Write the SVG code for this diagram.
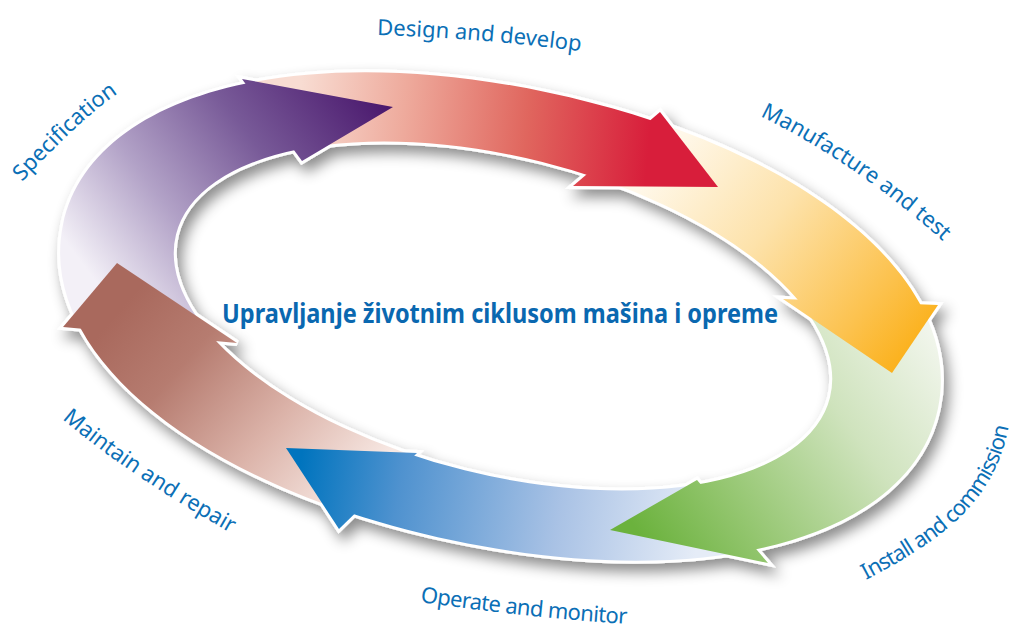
<svg xmlns="http://www.w3.org/2000/svg" xmlns:xlink="http://www.w3.org/1999/xlink" width="1016" height="629" viewBox="0 0 1016 629">
<style>
.lbl{font-family:"Noto Sans","Open Sans","DejaVu Sans",sans-serif;font-size:22px;fill:#0b6fb6}
.title{font-family:"Noto Sans","Open Sans","DejaVu Sans",sans-serif;font-size:26px;font-weight:700;fill:#0a68b0}
.sil{fill:#fff;stroke:#fff;stroke-width:6;stroke-linejoin:miter}
</style>
<defs>
<path id="ring" fill-rule="evenodd" d="M937.9,408.7 C910.5,538.6 707,594 453.3,540.6 C199.6,487.1 35.7,354.3 63.1,224.3 C90.5,94.4 294,39 547.7,92.4 C801.4,145.9 965.3,278.7 937.9,408.7 Z M830,397.5 A337 159 14 0 0 176,234.5 A337 159 14 0 0 830,397.5 Z"/>
<filter id="shadow" x="-10%" y="-10%" width="125%" height="135%">
<feDropShadow dx="5" dy="8" stdDeviation="7" flood-color="#000" flood-opacity="0.45"/>
</filter>
<linearGradient id="gSpec" gradientUnits="userSpaceOnUse" x1="110" y1="300" x2="380" y2="95">
<stop offset="0" stop-color="#f3f0f7"/><stop offset="0.3" stop-color="#b2a2c7"/><stop offset="0.62" stop-color="#785a98"/><stop offset="1" stop-color="#4a186d"/>
</linearGradient>
<linearGradient id="gDes" gradientUnits="userSpaceOnUse" x1="300" y1="100" x2="650" y2="130">
<stop offset="0" stop-color="#f8dcd2"/><stop offset="0.3" stop-color="#eeaa9c"/><stop offset="0.65" stop-color="#e0665e"/><stop offset="1" stop-color="#d81e3b"/>
</linearGradient>
<linearGradient id="gMan" gradientUnits="userSpaceOnUse" x1="660" y1="160" x2="905" y2="360">
<stop offset="0" stop-color="#fff8ea"/><stop offset="0.4" stop-color="#fde2aa"/><stop offset="0.8" stop-color="#fcc24e"/><stop offset="1" stop-color="#fbb11c"/>
</linearGradient>
<linearGradient id="gIns" gradientUnits="userSpaceOnUse" x1="935" y1="330" x2="640" y2="535">
<stop offset="0" stop-color="#f2f6ed"/><stop offset="0.35" stop-color="#cfe3bd"/><stop offset="0.75" stop-color="#92c56d"/><stop offset="1" stop-color="#6bb23d"/>
</linearGradient>
<linearGradient id="gOpe" gradientUnits="userSpaceOnUse" x1="700" y1="525" x2="300" y2="465">
<stop offset="0" stop-color="#e5ecf7"/><stop offset="0.35" stop-color="#a9c2e5"/><stop offset="0.75" stop-color="#4f92cf"/><stop offset="1" stop-color="#0074be"/>
</linearGradient>
<linearGradient id="gMai" gradientUnits="userSpaceOnUse" x1="345" y1="505" x2="120" y2="310">
<stop offset="0" stop-color="#f7e8e3"/><stop offset="0.35" stop-color="#dcb4aa"/><stop offset="0.72" stop-color="#b67c70"/><stop offset="1" stop-color="#a9695d"/>
</linearGradient>
<clipPath id="cSpec"><polygon points="502,316 265.6,343.1 2,318.8 0,8 209.6,30.3 322.7,184.9"/></clipPath>
<clipPath id="cDes"><polygon points="502,316 322.7,184.9 209.6,30.3 708.5,74.2 553,206.5"/></clipPath>
<clipPath id="cMan"><polygon points="502,316 553,206.5 708.5,74.2 1012,90 999.1,310 754.2,300.5"/></clipPath>
<clipPath id="cIns"><polygon points="502,316 754.2,300.5 999.1,310 1016,629 804,608.8 674.5,457.4"/></clipPath>
<clipPath id="cOpe"><polygon points="502,316 674.5,457.4 804,608.8 550,629 293.3,569.6 435.8,430.8"/></clipPath>
<clipPath id="cMai"><polygon points="502,316 435.8,430.8 293.3,569.6 0,629 2,318.8 265.6,343.1"/></clipPath>
<path id="pSpec" d="M22,182 C52.7,149 83.1,117.8 120,92 L175,55"/>
<path id="pDes" d="M377,35 C444,36.8 511.6,42.3 578,51 L625,58"/>
<path id="pMan" d="M760,116 C827.4,148.9 889.3,192.8 945,243 L980,278"/>
<path id="pIns" d="M866,580 C941,540 998,502 1010,418 L1013,400"/>
<path id="pOpe" d="M420,602 C489,612 558.1,619.5 628,624 L670,627"/>
<path id="pMai" d="M62,419 C112,461 166,495.5 222,528 L262,551"/>
</defs>

<g id="ring-base" filter="url(#shadow)">
<use href="#ring" class="sil"/>
<polygon class="sil" points="242,79 393,107 302,161"/>
<polygon class="sil" points="660,112 718,187 573,186"/>
<polygon class="sil" points="938,305 892,373 783,299"/>
<polygon class="sil" points="768,563 610,530 697,480"/>
<polygon class="sil" points="339,529 286,448 417,453"/>
<polygon class="sil" points="63,327 117,263 237,343"/>
</g>

<g id="node-specification">
<use href="#ring" fill="url(#gSpec)" clip-path="url(#cSpec)"/>
<text class="lbl"><textPath href="#pSpec">Specification</textPath></text>
</g>
<g id="node-design">
<use href="#ring" fill="url(#gDes)" clip-path="url(#cDes)"/>
<text class="lbl"><textPath href="#pDes">Design and develop</textPath></text>
</g>
<g id="node-manufacture">
<use href="#ring" fill="url(#gMan)" clip-path="url(#cMan)"/>
<text class="lbl"><textPath href="#pMan">Manufacture and test</textPath></text>
</g>
<g id="node-install">
<use href="#ring" fill="url(#gIns)" clip-path="url(#cIns)"/>
<text class="lbl"><textPath href="#pIns" textLength="218">Install and commission</textPath></text>
</g>
<g id="node-operate">
<use href="#ring" fill="url(#gOpe)" clip-path="url(#cOpe)"/>
<text class="lbl"><textPath href="#pOpe" textLength="208">Operate and monitor</textPath></text>
</g>
<g id="node-maintain">
<use href="#ring" fill="url(#gMai)" clip-path="url(#cMai)"/>
<text class="lbl"><textPath href="#pMai">Maintain and repair</textPath></text>
</g>

<g id="connectors">
<polygon points="242,79 393,107 302,161" fill="url(#gSpec)"/>
<polygon points="660,112 718,187 573,186" fill="url(#gDes)"/>
<polygon points="938,305 892,373 783,299" fill="url(#gMan)"/>
<polygon points="768,563 610,530 697,480" fill="url(#gIns)"/>
<polygon points="339,529 286,448 417,453" fill="url(#gOpe)"/>
<polygon points="63,327 117,263 237,343" fill="url(#gMai)"/>
</g>

<g id="node-center">
<text class="title" x="222" y="323" textLength="556" lengthAdjust="spacingAndGlyphs">Upravljanje životnim ciklusom mašina i opreme</text>
</g>
</svg>
